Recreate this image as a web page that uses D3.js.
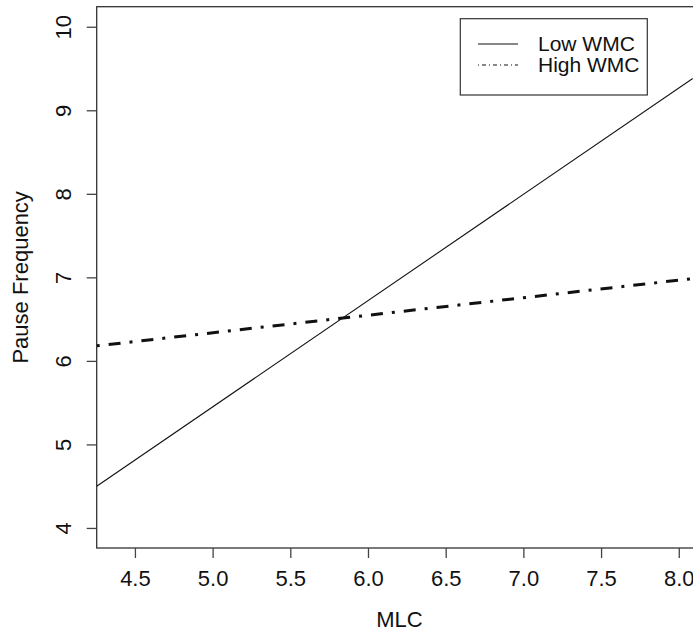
<!DOCTYPE html>
<html>
<head>
<meta charset="utf-8">
<script src="https://cdn.jsdelivr.net/npm/d3@7"></script>
<style>
  body { margin: 0; background: #fff; }
  text { font-family: "Liberation Sans", Arial, sans-serif; fill: #111; }
</style>
</head>
<body>
<div id="chart"></div>
<script>
// data
var mlcEnds = [4.254, 8.09];
var lowWMC = [4.50, 9.38];
var highWMC = [6.18, 6.985];
var seriesNames = ["Low WMC", "High WMC"];
var xTicks = [4.5, 5.0, 5.5, 6.0, 6.5, 7.0, 7.5, 8.0];
var yTicks = [4, 5, 6, 7, 8, 9, 10];

var W = 693, H = 632;
var margin = {top: 6.7, right: -10, bottom: 84, left: 96.7},
    width = W - margin.left - margin.right,
    height = H - margin.top - margin.bottom;

var svg = d3.select("#chart")
  .append("svg")
    .attr("width", W)
    .attr("height", H);

var g = svg.append("g")
    .attr("transform", "translate(" + margin.left + "," + margin.top + ")");

// R style 4% padding around the data range
var x = d3.scaleLinear()
  .domain([4.254, 8.156])
  .range([0, width]);
var y = d3.scaleLinear()
  .domain([3.76, 10.24])
  .range([height, 0]);

g.append("clipPath").attr("id", "clip")
  .append("rect").attr("width", width).attr("height", height);

// box
g.append("rect")
  .attr("width", width)
  .attr("height", height)
  .attr("fill", "none")
  .attr("stroke", "#333")
  .attr("stroke-width", 1.3);

// x axis
var xAxis = g.append("g")
  .attr("transform", "translate(0," + height + ")")
  .call(d3.axisBottom(x).tickValues(xTicks).tickFormat(d3.format(".1f"))
        .tickSize(10).tickSizeOuter(0).tickPadding(12.5));
xAxis.select(".domain").remove();
xAxis.selectAll("line").attr("stroke", "#444").attr("stroke-width", 1.3);
xAxis.selectAll("text")
  .attr("font-size", "22px")
  .attr("font-family", "Liberation Sans, Arial, sans-serif")
  .attr("fill", "#111");

// y axis with rotated labels
var yAxis = g.append("g")
  .call(d3.axisLeft(y).tickValues(yTicks).tickFormat(d3.format("d"))
        .tickSize(10).tickSizeOuter(0));
yAxis.select(".domain").remove();
yAxis.selectAll("line").attr("stroke", "#444").attr("stroke-width", 1.3);
yAxis.selectAll("text")
  .attr("x", null).attr("dy", null)
  .attr("font-size", "22px")
  .attr("font-family", "Liberation Sans, Arial, sans-serif")
  .attr("fill", "#111")
  .attr("text-anchor", "middle")
  .attr("transform", "translate(-26,0)rotate(-90)");

// lines
var line = d3.line()
  .x(function(d) { return x(d[0]); })
  .y(function(d) { return y(d[1]); });

var lines = g.append("g").attr("clip-path", "url(#clip)");
lines.append("path")
  .datum(d3.zip(mlcEnds, lowWMC))
  .attr("d", line)
  .attr("fill", "none")
  .attr("stroke", "#111")
  .attr("stroke-width", 1.1);
lines.append("path")
  .datum(d3.zip(mlcEnds, highWMC))
  .attr("d", line)
  .attr("fill", "none")
  .attr("stroke", "#111")
  .attr("stroke-width", 3)
  .attr("stroke-dasharray", "3,9,12,9");

// axis titles
svg.append("text")
  .text("MLC")
  .attr("text-anchor", "middle")
  .attr("font-size", "22px")
  .attr("x", 399.5)
  .attr("y", 627);

svg.append("text")
  .text("Pause Frequency")
  .attr("text-anchor", "middle")
  .attr("font-size", "22px")
  .attr("transform", "translate(28," + (margin.top + height / 2) + ")rotate(-90)");

// legend
var leg = svg.append("g");
leg.append("rect")
  .attr("x", 460.3).attr("y", 18.7)
  .attr("width", 187).attr("height", 76.3)
  .attr("fill", "#fff")
  .attr("stroke", "#333")
  .attr("stroke-width", 1.2);
var dashes = [null, "1,3,4,3"];
var widths = [1.1, 1.1];
seriesNames.forEach(function(name, i) {
  var yy = 44 + i * 21;
  leg.append("line")
    .attr("x1", 478).attr("x2", 518)
    .attr("y1", yy).attr("y2", yy)
    .attr("stroke", "#111")
    .attr("stroke-width", widths[i])
    .attr("stroke-dasharray", dashes[i]);
  leg.append("text")
    .text(name)
    .attr("x", 538)
    .attr("y", yy + 7)
    .attr("font-size", "21px");
});
</script>
</body>
</html>
